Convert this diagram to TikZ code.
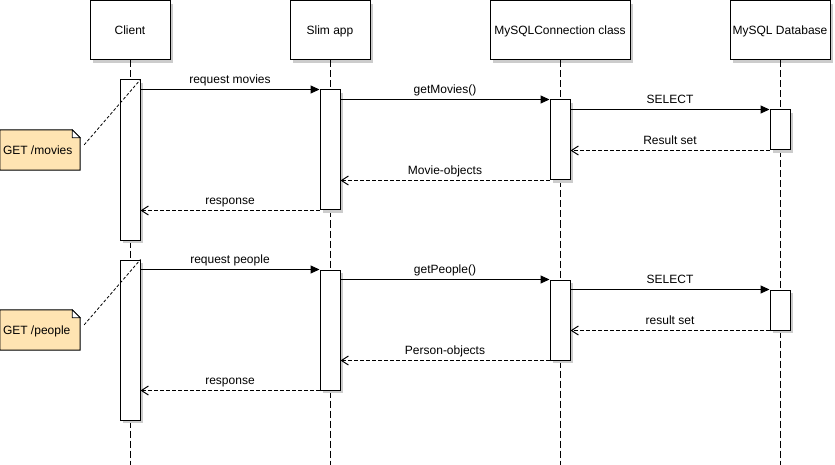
\documentclass[tikz,border=0pt]{standalone}
\usepackage{fontspec}
\setmainfont{Liberation Sans}
\usetikzlibrary{arrows.meta,shadows}
\definecolor{notefill}{RGB}{255,228,178}
\tikzset{lhead/.style={draw,fill=white,line width=1pt,minimum width=80pt,minimum height=59pt,inner sep=0pt,
    text height=8.6pt,text depth=0pt,
    drop shadow={shadow xshift=3pt,shadow yshift=-3pt,fill=black!20,opacity=1}}}
\tikzset{lifeline/.style={draw,line width=1pt,dash pattern=on 7pt off 3pt}}
\tikzset{act/.style={draw,fill=white,line width=1pt,minimum width=20pt,inner sep=0pt,
    drop shadow={shadow xshift=3pt,shadow yshift=-3pt,fill=black!20,opacity=1}}}
\tikzset{callmsg/.style={draw,line width=1pt,-{Triangle[length=9pt,width=8pt]}}}
\tikzset{retmsg/.style={draw,line width=1pt,dash pattern=on 4pt off 2pt,-{Straight Barb[length=7pt,width=9pt]}}}
\tikzset{msglabel/.style={midway,above=0pt,text height=8.6pt,text depth=2.5pt}}
\tikzset{notebox/.style={minimum width=80pt,minimum height=40pt,inner sep=0pt}}
\tikzset{notetext/.style={anchor=west,inner sep=0pt,xshift=3pt,text height=8.6pt,text depth=0pt}}
\tikzset{notelink/.style={draw,line width=0.8pt,dash pattern=on 3pt off 2pt}}

\begin{document}
\begin{tikzpicture}[x=1pt,y=-1pt,font=\fontsize{12pt}{14pt}\selectfont]
  \useasboundingbox (0,0) rectangle (835,465);

  % heads and lifelines
  \node[lhead] (client) at (130,30.5) {Client};
  \node[lhead] (slim) at (330,30.5) {Slim app};
  \node[lhead,minimum width=140pt] (conn) at (560,30.5) {MySQLConnection class};
  \node[lhead,minimum width=100pt] (db) at (780,30.5) {MySQL Database};
  \foreach \n in {client,slim,conn,db}{
    \coordinate (\n-end) at (\n |- 0,465);
    \draw[lifeline] (\n) -- (\n-end);
  }

  \foreach \k/\dy/\url/\req/\get/\res/\obj in {1/0/movies/request movies/getMovies()/Result set/Movie-objects,
      2/180/people/request people/getPeople()/result set/Person-objects}{
    % activations
    \node[act,minimum height=160pt] (ca\k) at (130,160+\dy) {};
    \node[act,minimum height=120pt] (sa\k) at (330,150+\dy) {};
    \node[act,minimum height=80pt] (na\k) at (560,140+\dy) {};
    \node[act,minimum height=40pt] (da\k) at (780,130+\dy) {};

    % messages
    \draw[callmsg] (ca\k.east |- sa\k.north) -- (sa\k.north west) node[msglabel] {\req};
    \draw[callmsg] (sa\k.east |- na\k.north) -- (na\k.north west) node[msglabel] {\get};
    \draw[callmsg] (na\k.east |- da\k.north) -- (da\k.north west) node[msglabel] {SELECT};
    \draw[retmsg] (da\k.south west) -- (na\k.east |- da\k.south) node[msglabel] {\res};
    \draw[retmsg] (na\k.south west) -- (sa\k.east |- na\k.south) node[msglabel] {\obj};
    \draw[retmsg] (sa\k.south west) -- (ca\k.east |- sa\k.south) node[msglabel] {response};

    % note
    \path (40,150+\dy) node[notebox] (note\k) {};
    \fill[black!20,xshift=3pt,yshift=-3pt] (note\k.south west) -- (note\k.north west)
      -- ([xshift=-8pt]note\k.north east) -- ([yshift=-8pt]note\k.north east) -- (note\k.south east) -- cycle;
    \draw[fill=notefill,line width=1pt] (note\k.south west) -- (note\k.north west)
      -- ([xshift=-8pt]note\k.north east) -- ([yshift=-8pt]note\k.north east) -- (note\k.south east) -- cycle;
    \draw[fill=white,line width=0.8pt] ([xshift=-8pt]note\k.north east) -- ([xshift=-8pt,yshift=-8pt]note\k.north east)
      -- ([yshift=-8pt]note\k.north east) -- cycle;
    \node[notetext] (notelabel\k) at (note\k.west) {GET /\url};
    \draw[notelink] ([xshift=4pt,yshift=-15pt]note\k.north east) -- (ca\k.north east);
  }
\end{tikzpicture}
\end{document}
